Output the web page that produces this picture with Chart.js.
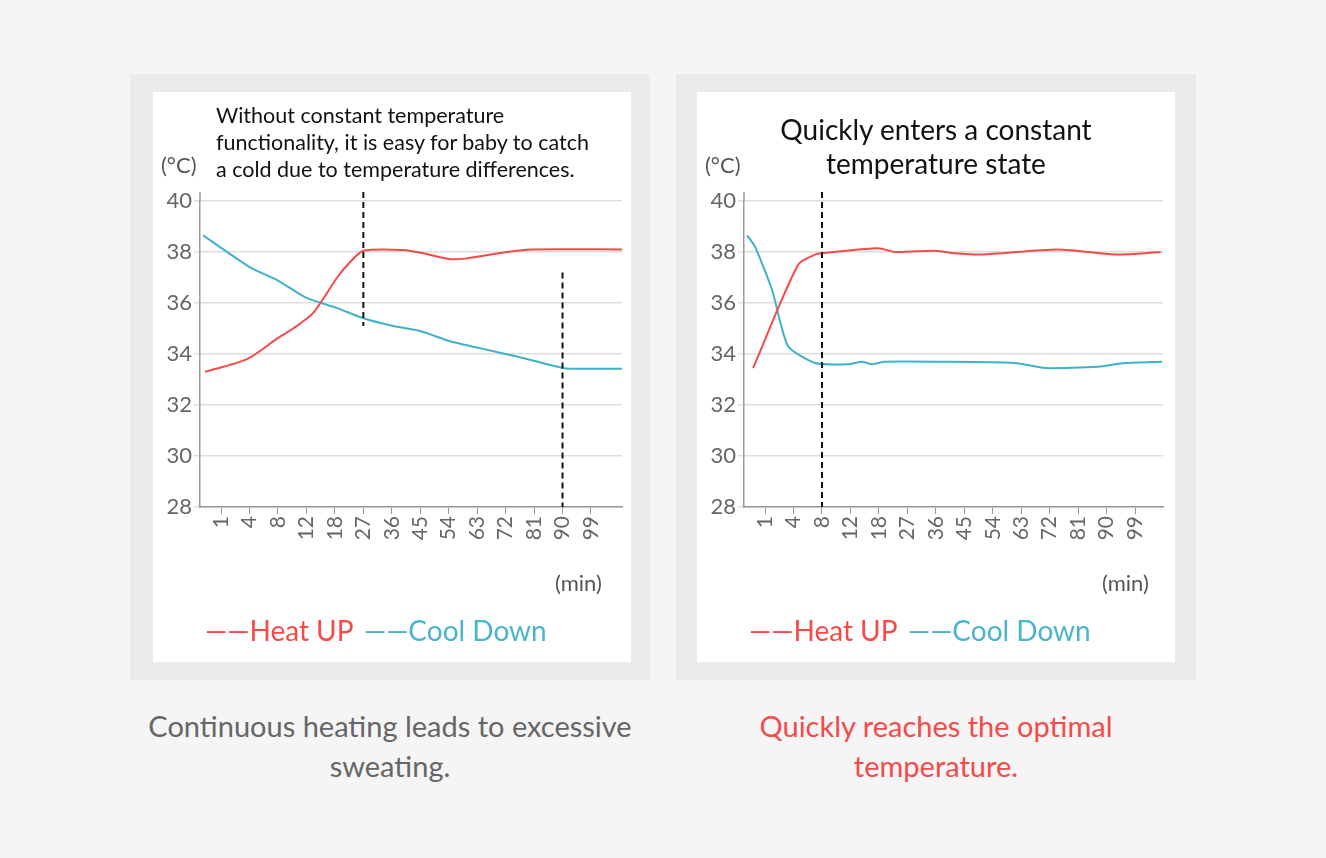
<!DOCTYPE html>
<html><head><meta charset="utf-8">
<script src="https://cdn.jsdelivr.net/npm/chart.js@4/dist/chart.umd.min.js"></script>
<style>
body{margin:0;width:1326px;height:858px;background:#f5f5f5;font-family:Lato,"Noto Sans",sans-serif;position:relative;overflow:hidden}
.panel{position:absolute;top:74px;width:520px;height:606px;background:#ebebeb}
.inner{position:absolute;top:18px;width:478px;height:570px;background:#fff}
canvas{position:absolute;left:0;top:0}
.t{position:absolute;white-space:nowrap}
.cap{position:absolute;top:706px;width:520px;text-align:center;font-size:29px;line-height:40px}
.leg{position:absolute;top:613px;font-size:28px;white-space:nowrap}
</style></head><body>
<div class="panel" style="left:130px"><div class="inner" id="L" style="left:23px"><canvas id="c1" width="478" height="570"></canvas>
<div class="t" style="left:63px;top:10px;font-size:21.5px;line-height:27px;color:#111">Without constant temperature<br>functionality, it is easy for baby to catch<br>a cold due to temperature differences.</div>
<div class="t" style="left:8px;top:59px;font-size:22px;color:#555">(°C)</div>
<div class="t" style="left:402px;top:477px;font-size:22px;color:#555">(min)</div>
</div></div>
<div class="panel" style="left:676px"><div class="inner" style="left:21px"><canvas id="c2" width="478" height="570"></canvas>
<div class="t" style="left:0;width:478px;text-align:center;top:20px;font-size:28px;line-height:34px;color:#111">Quickly enters a constant<br>temperature state</div>
<div class="t" style="left:8px;top:59px;font-size:22px;color:#555">(°C)</div>
<div class="t" style="left:405px;top:477px;font-size:22px;color:#555">(min)</div>
</div></div>
<div class="leg" style="left:205px"><span style="color:#f44a4a">——Heat UP</span> <span style="color:#4ab5cc;margin-left:4px">——Cool Down</span></div>
<div class="leg" style="left:749px"><span style="color:#f44a4a">——Heat UP</span> <span style="color:#4ab5cc;margin-left:4px">——Cool Down</span></div>
<div class="cap" style="left:130px;color:#666">Continuous heating leads to excessive<br>sweating.</div>
<div class="cap" style="left:676px;color:#f44a4a">Quickly reaches the optimal<br>temperature.</div>
<script>
const tickLabels=["1","4","8","12","18","27","36","45","54","63","72","81","90","99"];
const yTicks=[28,30,32,34,36,38,40];
// x in category-index units
const leftHeat=[[-0.56,33.3],[0.91,33.8],[1.97,34.6],[2.53,35.0],[3.23,35.6],[4.08,37.0],[4.53,37.6],[5.0,38.05],[6.4,38.08],[7.1,37.95],[8.05,37.72],[8.64,37.75],[10.05,38.0],[10.86,38.1],[14.1,38.1]];
const leftCool=[[-0.63,38.65],[1.02,37.4],[1.97,36.9],[3.0,36.2],[4.08,35.8],[5.0,35.4],[6.04,35.1],[7.0,34.9],[8.05,34.5],[9.2,34.2],[10.4,33.9],[12.0,33.45],[12.26,33.42],[14.1,33.42]];
const rightHeat=[[-0.42,33.45],[1.16,37.5],[1.76,37.9],[2.0,37.95],[3.97,38.15],[4.57,38.0],[5.97,38.05],[6.68,37.95],[7.6,37.9],[10.3,38.1],[12.3,37.9],[13.9,38.0]];
const rightCool=[[-0.63,38.65],[-0.35,38.2],[0.25,36.5],[0.81,34.3],[1.76,33.65],[2.92,33.6],[3.4,33.7],[3.76,33.6],[4.2,33.7],[8.78,33.65],[9.84,33.45],[11.7,33.5],[12.65,33.65],[13.95,33.7]];
const leftMarkers=[[5,35.1,40.35],[12,28,37.2]];
const rightMarkers=[[2,28,40.35]];
function make(id,heat,cool,markers,xmax){
 const pts=a=>a.map(p=>({x:p[0],y:p[1]}));
 new Chart(document.getElementById(id),{type:'line',
 data:{datasets:[
  {data:pts(heat),borderColor:'#f44a4a',borderWidth:2,pointRadius:0,tension:0.25},
  {data:pts(cool),borderColor:'#3fb1c8',borderWidth:2,pointRadius:0,tension:0.2}]},
 options:{responsive:false,animation:false,events:[],
  layout:{padding:{top:109,right:478-47-xmax.w,left:0,bottom:0}},
  plugins:{legend:{display:false},tooltip:{enabled:false}},
  scales:{
   x:{type:'linear',min:-0.74,max:xmax.m,
     afterBuildTicks:s=>{s.ticks=tickLabels.map((_,i)=>({value:i}));},
     afterFit:s=>{s.height=155;},
     ticks:{autoSkip:false,maxRotation:90,minRotation:90,color:'#666',font:{family:'Lato',size:21},padding:2,callback:(v)=>tickLabels[v]},
     grid:{drawOnChartArea:false,tickLength:7,color:'#999'},border:{color:'#999',width:1.5}},
   y:{min:28,max:40,afterBuildTicks:s=>{s.ticks=yTicks.map(v=>({value:v}));},
     afterFit:s=>{s.width=47;},
     ticks:{color:'#666',font:{family:'Lato',size:22},padding:2},
     grid:{color:'#ddd',lineWidth:1.5,tickLength:6},border:{color:'#999',width:1.5}}}},
 plugins:[{id:'m',afterDatasetsDraw(c){const x=c.scales.x,y=c.scales.y,g=c.ctx;g.save();
   g.strokeStyle='#111';g.lineWidth=2;g.setLineDash([6,4]);
   markers.forEach(m=>{g.beginPath();g.moveTo(x.getPixelForValue(m[0]),y.getPixelForValue(m[2]));g.lineTo(x.getPixelForValue(m[0]),y.getPixelForValue(m[1]));g.stroke();});
   g.setLineDash([]);g.strokeStyle='#999';g.lineWidth=1.5;g.beginPath();g.moveTo(x.left,y.top);g.lineTo(x.left,y.top-9);g.stroke();g.restore();}}]
 });
}
make('c1',leftHeat,leftCool,leftMarkers,{m:14.09,w:422});
make('c2',rightHeat,rightCool,rightMarkers,{m:13.98,w:419});
</script></body></html>
